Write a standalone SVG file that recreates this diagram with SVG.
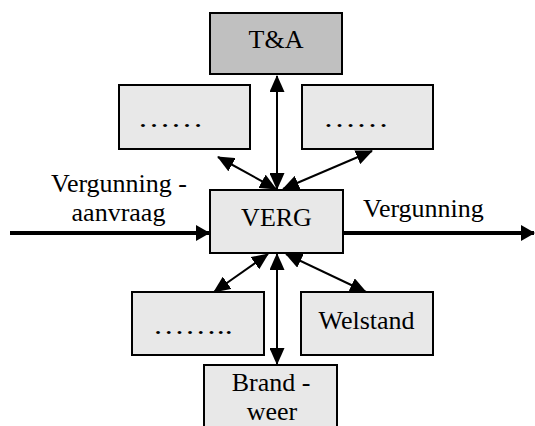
<svg xmlns="http://www.w3.org/2000/svg" width="535" height="426" viewBox="0 0 535 426">
<defs>
<style>
.box{fill:#e8e8e8;stroke:#000;stroke-width:2}
.dark{fill:#c0c0c0;stroke:#000;stroke-width:2}
.t{font-family:"Liberation Serif","Times New Roman",serif;font-size:26px;fill:#000}
.c{text-anchor:middle}
.ln{stroke:#000;stroke-width:2;fill:none}
.big{stroke:#000;stroke-width:4;fill:none}
</style>
<marker id="ah" markerUnits="userSpaceOnUse" markerWidth="17" markerHeight="15" viewBox="0 0 17 15" refX="16" refY="7.5" orient="auto-start-reverse">
<path d="M0,0 L17,7.5 L0,15 Z" fill="#000"/>
</marker>
<marker id="ahb" markerUnits="userSpaceOnUse" markerWidth="14" markerHeight="16" viewBox="0 0 14 16" refX="13" refY="8" orient="auto">
<path d="M0,0 L14,8 L0,16 Z" fill="#000"/>
</marker>
</defs>
<g id="connectors">
<line class="ln" x1="277" y1="76" x2="277" y2="189" marker-start="url(#ah)" marker-end="url(#ah)"/>
<line class="ln" x1="218" y1="157" x2="276" y2="189" marker-start="url(#ah)" marker-end="url(#ah)"/>
<line class="ln" x1="372" y1="151" x2="283" y2="189" marker-start="url(#ah)" marker-end="url(#ah)"/>
<line class="ln" x1="268" y1="254" x2="214" y2="292" marker-start="url(#ah)" marker-end="url(#ah)"/>
<line class="ln" x1="277" y1="254" x2="277" y2="364" marker-start="url(#ah)" marker-end="url(#ah)"/>
<line class="ln" x1="286" y1="254" x2="366" y2="292" marker-start="url(#ah)" marker-end="url(#ah)"/>
<line class="big" x1="10" y1="233" x2="209" y2="233" marker-end="url(#ahb)"/>
<line class="big" x1="344" y1="233" x2="534" y2="233" marker-end="url(#ahb)"/>
</g>
<g id="ta">
<rect class="dark" x="210" y="13" width="132" height="61"/>
<text class="t c" x="276" y="48">T&amp;A</text>
</g>
<g id="dots-left">
<rect class="box" x="119" y="85" width="131" height="64"/>
<text class="t" x="137.5" y="127" textLength="66" lengthAdjust="spacingAndGlyphs">……</text>
</g>
<g id="dots-right">
<rect class="box" x="302" y="85" width="131" height="64"/>
<text class="t" x="323" y="127" textLength="66" lengthAdjust="spacingAndGlyphs">……</text>
</g>
<g id="verg">
<rect class="box" x="210" y="190" width="133" height="63"/>
<text class="t c" x="276.5" y="226">VERG</text>
</g>
<g id="dots-bottom">
<rect class="box" x="132" y="292" width="132" height="63"/>
<text class="t" x="152.7" y="334" textLength="80" lengthAdjust="spacingAndGlyphs">……..</text>
</g>
<g id="welstand">
<rect class="box" x="301" y="292" width="132" height="63"/>
<text class="t c" x="366.5" y="329">Welstand</text>
</g>
<g id="brandweer">
<rect class="box" x="204" y="365" width="133" height="70"/>
<text class="t c" x="271" y="391">Brand -</text>
<text class="t c" x="272" y="420">weer</text>
</g>
<g id="labels">
<text class="t c" x="119" y="192">Vergunning -</text>
<text class="t c" x="118.5" y="221">aanvraag</text>
<text class="t" x="363" y="217">Vergunning</text>
</g>
</svg>
